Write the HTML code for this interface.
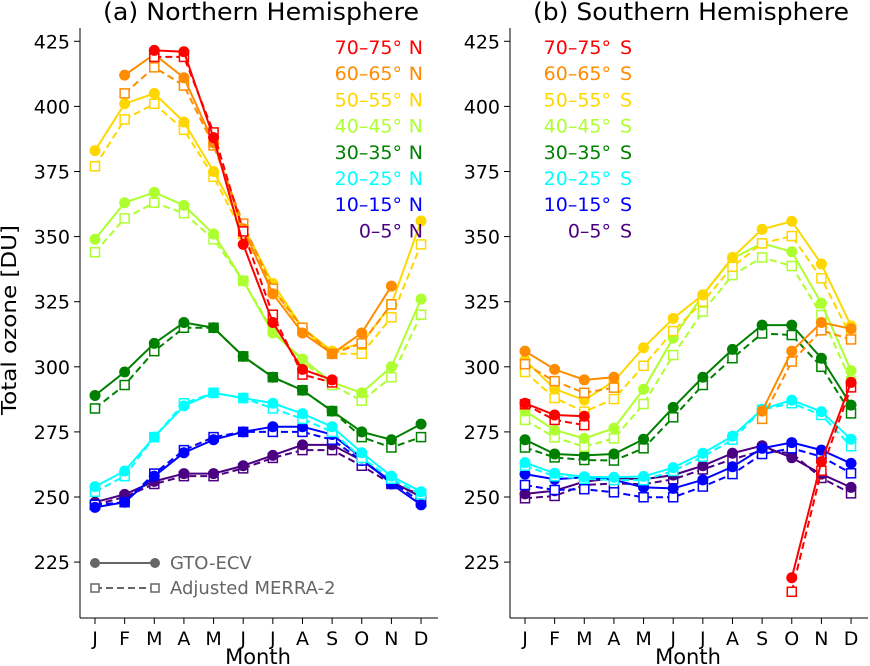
<!DOCTYPE html>
<html><head><meta charset="utf-8"><style>
body{margin:0;background:#fff}
svg{display:block;font-family:"DejaVu Sans","Liberation Sans",sans-serif}
</style></head><body>
<svg id="chart" width="870" height="666" viewBox="0 0 870 666" xmlns="http://www.w3.org/2000/svg"></svg>
<script>
const months=["J","F","M","A","M","J","J","A","S","O","N","D"];
const yTicks=[225,250,275,300,325,350,375,400,425];
const bandLabels=["70–75°","60–65°","50–55°","40–45°","30–35°","20–25°","10–15°","0–5°"];
const bandColors=["#ff0000","#ff8c00","#ffd700","#adff2f","#008000","#00ffff","#0000ff","#4b0082"];
const n=null;
const nhGto=[
[n,n,421.5,421,388,347,317,299,295,n,n,n],
[n,412,420,411,386,353,328,313,305,313,331,n],
[383,401,405,394,375,354,332,315,306,309,324,356],
[349,363,367,362,351,333,313,303,294,290,300,326],
[289,298,309,317,315,304,296,291,283,275,272,278],
[254,260,273,285,290,288,286,282,277,267,258,252],
[246,248,258,267,272,275,277,277,274,265,255,247],
[248,251,256,259,259,262,266,270,270,264,256,250]];
const nhMerra=[
[n,n,419,419,390,352,320,297,294,n,n,n],
[n,405,415,408,385,355,330,315,305,309,324,n],
[377,395,401,391,373,351,330,314,305,305,319,347],
[344,357,363,359,349,333,314,302,293,287,296,320],
[284,293,306,315,315,304,296,291,283,273,269,273],
[252,258,273,286,290,288,284,280,275,265,257,251],
[247,248,259,268,273,275,275,275,272,264,256,248],
[247,250,255,258,258,261,265,268,268,262,255,251]];
const shGto=[
[286,281.5,281,n,n,n,n,n,n,219,263.6,294],
[306,299,295,296,n,n,n,n,283,306,317,314.6],
[302.6,291.5,287.2,294.5,307.3,318.6,327.6,342,352.8,355.9,339.5,315.7],
[283,275.7,272.5,276.4,291.4,311,327.6,341.6,347.4,344.2,324.4,298.5],
[272,266.5,266,266.5,272.2,284.4,296,306.7,316,316,303.3,285.3],
[263.2,259.1,257.8,257.6,257.9,261.3,266.8,273.4,283.7,287.2,282.8,272.2],
[258.8,256.8,257.6,256.6,253.7,253.3,256.6,261.6,268.7,270.9,268,262.9],
[251.2,252.4,255.9,257.2,256.8,258.4,262,266.8,269.7,265.1,258.8,253.7]];
const shMerra=[
[285.6,279.6,277.6,n,n,n,n,n,n,213.6,260.1,292.1],
[301,294.5,290,292,n,n,n,n,280,302,314,310.5],
[298,288,282.8,287.6,300.4,313.7,325,338.4,347.4,350.2,334,311.6],
[279.6,272.9,269.3,272.5,285.7,304.5,321.2,335.2,342,338.7,319.9,294.3],
[269,265.2,264.2,264,268.7,280.6,293,303.3,312.8,312.2,300,282.1],
[262,258,257,256.5,256.5,260,265.5,272,283.5,286,281.5,269.5],
[254.6,252.7,253,251.8,249.9,249.9,254,258.8,266.5,268.7,265.5,259.1],
[249.5,250.4,254.6,255.2,254.9,256.8,260.6,264.5,267.8,266.8,257.3,251.4]];

const NS="http://www.w3.org/2000/svg";
const svg=document.getElementById('chart');
function el(tag,attrs,parent){const e=document.createElementNS(NS,tag);for(const k in attrs)e.setAttribute(k,attrs[k]);(parent||svg).appendChild(e);return e;}
function yS(v){return 497-(v-250)*2.604;}
function makeX(x0){return i=>x0+i*29.64;}

function panel(axLeft,title,suffix,gto,merra,legRight,key){
  const g=el('g',{});
  
  
  const xS=makeX(axLeft+15);
  const t=el('text',{x:axLeft+181,y:20,'font-size':24,'text-anchor':'middle',textLength:316,lengthAdjust:'spacingAndGlyphs'},g);
  t.textContent=title;
  
  
  el('line',{x1:axLeft,y1:28,x2:axLeft,y2:618,stroke:'#000','stroke-width':1},g);
  el('line',{x1:axLeft,y1:618,x2:axLeft+358,y2:618,stroke:'#000','stroke-width':1},g);
  yTicks.forEach(v=>{
    el('line',{x1:axLeft-6,x2:axLeft,y1:yS(v),y2:yS(v),stroke:'#000'},g);
    const tt=el('text',{x:axLeft-10,y:yS(v)+7,'font-size':19,'text-anchor':'end'},g);
    tt.textContent=v;
    
    
  });
  months.forEach((m,i)=>{
    el('line',{x1:xS(i),x2:xS(i),y1:618,y2:624,stroke:'#000'},g);
    const tt=el('text',{x:xS(i),y:645,'font-size':19,'text-anchor':'middle'},g);
    tt.textContent=m;
    
    
  });
  const xl=el('text',{x:axLeft+178,y:664,'font-size':21,'text-anchor':'middle'},g);
  xl.textContent='Month';
  
  
  function series(data,color,dashed,name){
    const sg=el('g',{},g);
    
    
    let seg=[];
    const segs=[];
    data.forEach((v,i)=>{if(v==null){if(seg.length)segs.push(seg);seg=[];}else seg.push([xS(i),yS(v)]);});
    if(seg.length)segs.push(seg);
    segs.forEach(s=>{el('polyline',{points:s.map(p=>p.join(',')).join(' '),fill:'none',stroke:color,'stroke-width':2,'stroke-dasharray':dashed?'7,4':'none'},sg);});
    data.forEach((v,i)=>{if(v==null)return;
      if(dashed)el('rect',{x:xS(i)-4.5,y:yS(v)-4.5,width:9,height:9,fill:'#fff',stroke:color,'stroke-width':1.5},sg);
      else el('circle',{cx:xS(i),cy:yS(v),r:5.5,fill:color},sg);
    });
  }
  for(let b=7;b>=0;b--){
    series(merra[b],bandColors[b],true,key+'-merra-'+b);
    series(gto[b],bandColors[b],false,key+'-gto-'+b);
  }
  bandLabels.forEach((l,b)=>{
    const tt=el('text',{x:legRight-21,y:54+b*26.2,'font-size':19,fill:bandColors[b],'text-anchor':'end'},g);
    tt.textContent=l;
    
    
    const ts=el('text',{x:legRight,y:54+b*26.2,'font-size':19,fill:bandColors[b],'text-anchor':'end'},g);
    ts.textContent=suffix;
    
    
  });
}
panel(80,'(a) Northern Hemisphere','N',nhGto,nhMerra,423,'nh');
panel(510,'(b) Southern Hemisphere','S',shGto,shMerra,632,'sh');

const yl=el('text',{x:0,y:0,'font-size':20,'text-anchor':'middle',transform:'translate(16,320) rotate(-90)',textLength:190,lengthAdjust:'spacingAndGlyphs'});
yl.textContent='Total ozone [DU]';



const lg=el('g',{});


el('line',{x1:95,x2:155,y1:563,y2:563,stroke:'#666','stroke-width':2},lg);
el('circle',{cx:95,cy:563,r:5,fill:'#666'},lg);
el('circle',{cx:155,cy:563,r:5,fill:'#666'},lg);
const t1=el('text',{x:170,y:569,'font-size':18,fill:'#666'},lg);t1.textContent='GTO-ECV';
el('line',{x1:95,x2:155,y1:588,y2:588,stroke:'#666','stroke-width':2,'stroke-dasharray':'7,4'},lg);
el('rect',{x:91,y:584,width:8,height:8,fill:'#fff',stroke:'#666','stroke-width':1.5},lg);
el('rect',{x:151,y:584,width:8,height:8,fill:'#fff',stroke:'#666','stroke-width':1.5},lg);
const t2=el('text',{x:170,y:594,'font-size':18,fill:'#666'},lg);t2.textContent='Adjusted MERRA-2';
</script>
</body></html>
